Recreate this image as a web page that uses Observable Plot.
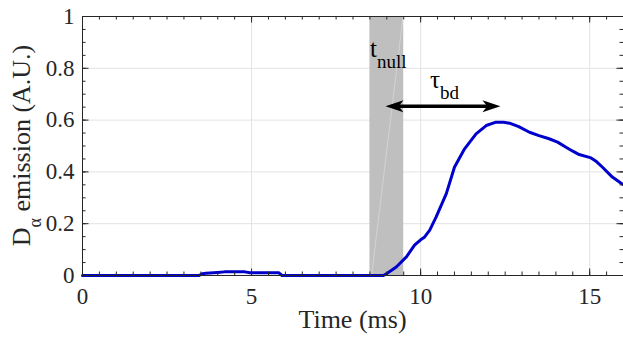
<!DOCTYPE html>
<html><head><meta charset="utf-8">
<script src="https://cdn.jsdelivr.net/npm/d3@7"></script>
<script src="https://cdn.jsdelivr.net/npm/@observablehq/plot@0.6"></script>
<style>body{margin:0;background:#fff}#chart svg{display:block}</style>
</head><body><div id="chart"></div>
<script>
// ---- data ----
const time = [0, 3.45, 3.55, 3.65, 4.0, 4.2, 4.8, 4.95, 5.8, 5.9, 8.9, 9.0, 9.28, 9.58, 9.82, 10.0, 10.12, 10.27, 10.46, 10.76, 11.0, 11.3, 11.64, 11.94, 12.23, 12.45, 12.63, 12.9, 13.22, 13.5, 13.8, 14.05, 14.3, 14.5, 14.69, 15.04, 15.2, 15.38, 15.67, 15.92, 16];
const emission = [0, 0, 0.007, 0.009, 0.012, 0.014, 0.014, 0.011, 0.011, 0, 0, 0.008, 0.033, 0.072, 0.117, 0.138, 0.149, 0.175, 0.226, 0.316, 0.418, 0.489, 0.547, 0.579, 0.592, 0.592, 0.588, 0.575, 0.553, 0.54, 0.528, 0.515, 0.495, 0.48, 0.467, 0.454, 0.44, 0.418, 0.38, 0.357, 0.35];
const xTicks = [0, 5, 10, 15];
const xTickLabels = ["0", "5", "10", "15"];
const yTicks = [0, 0.2, 0.4, 0.6, 0.8, 1];
const yTickLabels = ["0", "0.2", "0.4", "0.6", "0.8", "1"];
const xMinor = d3.range(0, 16.001, 0.5);
const yMinor = d3.range(0, 1.0001, 0.05);
const xGrid = [5, 10, 15];
const yGrid = [0.2, 0.4, 0.6, 0.8];
const nullWindow = [{x1: 8.5, x2: 9.5, y1: 0, y2: 1}];
const nullStreak = [{x1: 8.55, y1: 0, x2: 9.48, y2: 1}];
const tauArrow = {x1: 8.96, x2: 12.36, y: 0.653};
const annotations = [
  {main: "t", sub: "null", x: 8.52, y: 0.842},
  {main: "τ", sub: "bd", x: 10.29, y: 0.723}
];

const W = 623, H = 339, mL = 82, mR = 0, mT = 16, mB = 64;
const pw = W - mL - mR, ph = H - mT - mB;
const axisColor = "#262626";
const font = "'Liberation Serif', 'Times New Roman', serif";
const data = time.map((t, i) => ({t, v: emission[i]}));

const headRight = {draw(ctx, size) { const r = Math.sqrt(size / Math.PI);
  ctx.moveTo(0, 0); ctx.lineTo(-3 * r, -r); ctx.lineTo(-2.2 * r, 0); ctx.lineTo(-3 * r, r); ctx.closePath(); }};
const headLeft = {draw(ctx, size) { const r = Math.sqrt(size / Math.PI);
  ctx.moveTo(0, 0); ctx.lineTo(3 * r, -r); ctx.lineTo(2.2 * r, 0); ctx.lineTo(3 * r, r); ctx.closePath(); }};

const plot = Plot.plot({
  width: W, height: H,
  marginLeft: mL, marginRight: mR, marginTop: mT, marginBottom: mB,
  style: {fontFamily: font, color: axisColor, background: "#fff", overflow: "visible"},
  x: {domain: [0, 16]},
  y: {domain: [0, 1]},
  marks: [
    Plot.ruleX(xGrid, {stroke: "#e3e3e3", strokeWidth: 1}),
    Plot.ruleY(yGrid, {stroke: "#e3e3e3", strokeWidth: 1}),
    Plot.rect(nullWindow, {x1: "x1", x2: "x2", y1: "y1", y2: "y2", fill: "#bfbfbf"}),
    Plot.link(nullStreak, {x1: "x1", y1: "y1", x2: "x2", y2: "y2", stroke: "#fff", strokeOpacity: 0.3, strokeWidth: 1}),
    Plot.line(data, {x: "t", y: "v", stroke: "#0000cc", strokeWidth: 3, strokeLinejoin: "round"}),
    // inward ticks on all four sides
    Plot.tickX(xMinor, {x: d => d, stroke: axisColor, insetTop: ph - 3.5}),
    Plot.tickX(xMinor, {x: d => d, stroke: axisColor, insetBottom: ph - 3.5}),
    Plot.tickX(xTicks, {x: d => d, stroke: axisColor, insetTop: ph - 6.5}),
    Plot.tickX(xTicks, {x: d => d, stroke: axisColor, insetBottom: ph - 6.5}),
    Plot.tickY(yMinor, {y: d => d, stroke: axisColor, insetRight: pw - 3.5}),
    Plot.tickY(yMinor, {y: d => d, stroke: axisColor, insetLeft: pw - 3.5}),
    Plot.tickY(yTicks, {y: d => d, stroke: axisColor, insetRight: pw - 6.5}),
    Plot.tickY(yTicks, {y: d => d, stroke: axisColor, insetLeft: pw - 6.5}),
    Plot.frame({stroke: axisColor, strokeWidth: 1}),
    Plot.axisX(xTicks, {tickSize: 0, tickPadding: 12, fontSize: 23, tickFormat: (d, i) => xTickLabels[i], label: null}),
    Plot.axisY(yTicks, {tickSize: 0, tickPadding: 8, fontSize: 23, tickFormat: (d, i) => yTickLabels[i], label: null}),
    // tau_bd double arrow
    Plot.link([tauArrow], {x1: d => d.x1 + 0.2, x2: d => d.x2 - 0.2, y1: "y", y2: "y", stroke: "#000", strokeWidth: 3.5}),
    Plot.dot([tauArrow], {x: "x1", y: "y", r: 6, symbol: headLeft, fill: "#000", stroke: "none"}),
    Plot.dot([tauArrow], {x: "x2", y: "y", r: 6, symbol: headRight, fill: "#000", stroke: "none"})
  ]
});

const svg = d3.select(plot);
const sx = plot.scale("x"), sy = plot.scale("y");

// annotations with subscripts
for (const a of annotations) {
  const t = svg.append("text")
    .attr("x", sx.apply(a.x)).attr("y", sy.apply(a.y)).attr("text-anchor", "start")
    .attr("font-family", font).attr("font-size", 25).attr("fill", "#000");
  t.append("tspan").text(a.main);
  t.append("tspan").attr("font-size", 19).attr("dy", 11).text(a.sub);
}

// x label
svg.append("text")
  .attr("x", mL + pw / 2).attr("y", 328)
  .attr("text-anchor", "middle").attr("font-family", font).attr("font-size", 26).attr("fill", axisColor)
  .text("Time (ms)");

// y label
const yl = svg.append("text")
  .attr("transform", `translate(30,${mT + ph / 2}) rotate(-90)`)
  .attr("text-anchor", "middle").attr("font-family", font).attr("font-size", 26).attr("fill", axisColor);
yl.append("tspan").text("D");
yl.append("tspan").attr("font-size", 18).attr("dy", 11).text("α");
yl.append("tspan").attr("dy", -11).text(" emission (A.U.)");

document.getElementById("chart").appendChild(plot);
</script>
</body></html>
